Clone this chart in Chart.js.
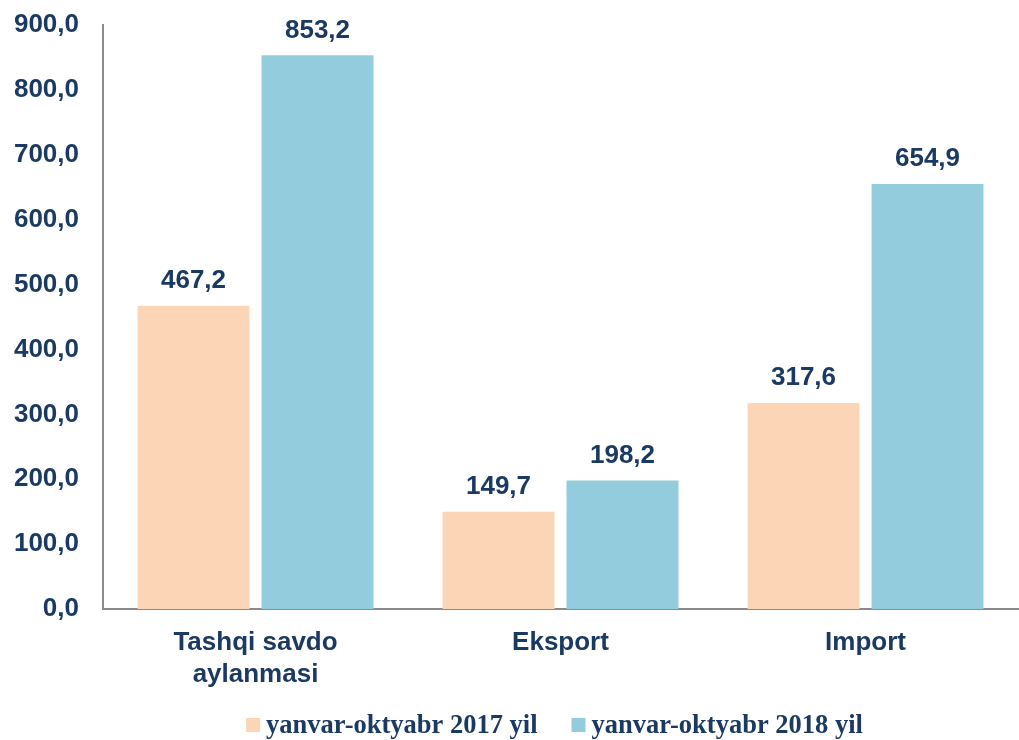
<!DOCTYPE html>
<html>
<head>
<meta charset="utf-8">
<script src="https://cdn.jsdelivr.net/npm/chart.js@4/dist/chart.umd.min.js"></script>
<style>
  html, body { margin: 0; padding: 0; background: #fff; }
  #wrap { width: 1019px; height: 740px; position: relative; }
</style>
</head>
<body>
<div id="wrap"><canvas id="chart"></canvas></div>
<script>
var categories = [['Tashqi savdo', 'aylanmasi'], 'Eksport', 'Import'];
var series2017 = [467.2, 149.7, 317.6];
var series2018 = [853.2, 198.2, 654.9];
var seriesNames = ['yanvar-oktyabr 2017 yil', 'yanvar-oktyabr 2018 yil'];
var seriesColors = ['#FBD5B5', '#93CDDD'];

var navy = '#1B3A63';
var sans = '"Liberation Sans", Arial, sans-serif';
var serif = '"Liberation Serif", "Times New Roman", serif';

function fmt(v) {
  return v.toFixed(1).replace('.', ',');
}

// value labels over each bar
var barLabels = {
  id: 'barLabels',
  afterDatasetsDraw: function (chart) {
    var ctx = chart.ctx;
    ctx.save();
    ctx.font = 'bold 26px ' + sans;
    ctx.fillStyle = navy;
    ctx.textAlign = 'center';
    ctx.textBaseline = 'middle';
    chart.data.datasets.forEach(function (ds, i) {
      chart.getDatasetMeta(i).data.forEach(function (bar, j) {
        ctx.fillText(fmt(ds.data[j]), bar.x, bar.y - 25);
      });
    });
    ctx.restore();
  }
};

// legend under the plot, centred on the plot area like the original
var bottomLegend = {
  id: 'bottomLegend',
  afterDraw: function (chart) {
    var ctx = chart.ctx;
    var area = chart.chartArea;
    ctx.save();
    ctx.font = 'bold 26.5px ' + serif;
    ctx.textBaseline = 'middle';
    var box = 14, gap = 6, space = 34;
    var items = chart.data.datasets.map(function (ds) {
      return { text: ds.label, color: ds.backgroundColor, w: ctx.measureText(ds.label).width };
    });
    var total = 0;
    items.forEach(function (it, i) { total += box + gap + it.w + (i ? space : 0); });
    var x = (area.left + area.right) / 2 - total / 2 - 6;
    var y = 725;
    items.forEach(function (it) {
      ctx.fillStyle = it.color;
      ctx.fillRect(x, y - box / 2, box, box);
      ctx.fillStyle = navy;
      ctx.fillText(it.text, x + box + gap, y + 1);
      x += box + gap + it.w + space;
    });
    ctx.restore();
  }
};

var ctx = document.getElementById('chart').getContext('2d');
new Chart(ctx, {
  type: 'bar',
  data: {
    labels: categories,
    datasets: [{
      label: seriesNames[0],
      data: series2017,
      backgroundColor: seriesColors[0],
      categoryPercentage: 0.813,
      barPercentage: 0.903
    }, {
      label: seriesNames[1],
      data: series2018,
      backgroundColor: seriesColors[1],
      categoryPercentage: 0.813,
      barPercentage: 0.903
    }]
  },
  options: {
    responsive: true,
    maintainAspectRatio: false,
    animation: false,
    layout: { padding: { top: 25, right: 1, left: 0, bottom: 39 } },
    plugins: {
      legend: { display: false },
      tooltip: { enabled: false }
    },
    scales: {
      x: {
        grid: { display: false },
        border: { display: true, color: '#8A8A8A', width: 2 },
        afterFit: function (s) { s.height = 92; },
        ticks: {
          color: navy,
          padding: 10,
          maxRotation: 0,
          font: { family: sans, size: 26, weight: 'bold', lineHeight: 1.23 }
        }
      },
      y: {
        min: 0,
        max: 900,
        grid: { display: false },
        border: { display: true, color: '#8A8A8A', width: 2 },
        afterFit: function (s) { s.width = 103; s.paddingTop = 0; s.paddingBottom = 0; },
        ticks: {
          stepSize: 100,
          padding: 16,
          color: navy,
          font: { family: sans, size: 26, weight: 'bold' },
          callback: function (v) { return fmt(v); }
        }
      }
    }
  },
  plugins: [barLabels, bottomLegend]
});
</script>
</body>
</html>
